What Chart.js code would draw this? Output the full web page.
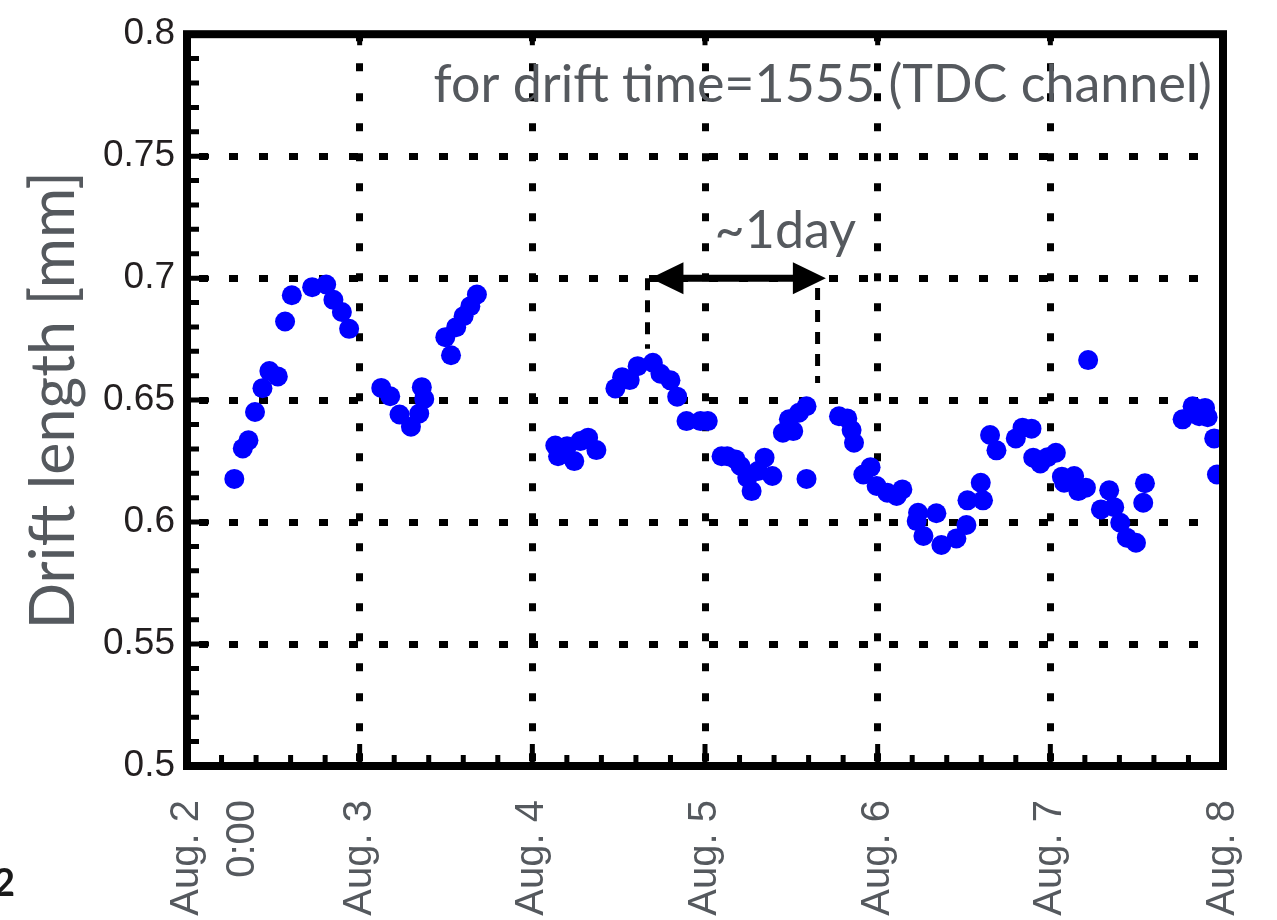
<!DOCTYPE html>
<html>
<head>
<meta charset="utf-8">
<title>Drift length vs time</title>
<script src="https://cdn.jsdelivr.net/npm/chart.js@4.4.1/dist/chart.umd.min.js"></script>
<style>
  html, body { margin: 0; padding: 0; background: #fff; }
  #wrap { width: 1277px; height: 920px; }
</style>
</head>
<body>
<div id="wrap"><canvas id="driftChart" width="1277" height="920"></canvas></div>
<script>
// time in days of August, drift length in mm
const days = [
  2.274, 2.323, 2.356, 2.394, 2.437, 2.477, 2.526, 2.568, 2.607, 2.725, 2.806, 2.848, 2.897, 2.939,
  3.125, 3.177, 3.231, 3.297, 3.345, 3.374, 3.360,
  3.496, 3.529, 3.559, 3.602, 3.641, 3.679,
  4.133, 4.149, 4.201, 4.243, 4.278, 4.323, 4.371,
  4.481, 4.520, 4.564, 4.610, 4.698, 4.742, 4.800, 4.839, 4.893, 4.974, 5.016,
  5.096, 5.129, 5.177, 5.206, 5.245, 5.270, 5.306, 5.345, 5.390,
  5.451, 5.486, 5.511, 5.544, 5.588, 5.588,
  5.776, 5.824, 5.849, 5.863, 5.917, 5.959, 5.994, 6.056, 6.110, 6.143,
  6.226, 6.234, 6.265, 6.340, 6.369, 6.456, 6.514, 6.520, 6.597, 6.610, 6.651, 6.688,
  6.800, 6.839, 6.891, 6.901, 6.942, 6.984, 7.032, 7.067, 7.080, 7.138, 7.162, 7.206,
  7.219,
  7.293, 7.341, 7.370, 7.405, 7.443, 7.496, 7.538, 7.548,
  7.766, 7.824, 7.862, 7.896, 7.911, 7.949, 7.965
];
const driftLength = [
  0.6177, 0.6302, 0.6335, 0.6451, 0.6549, 0.6619, 0.6597, 0.6822, 0.6930, 0.6963, 0.6974, 0.6911, 0.6861, 0.6792,
  0.6550, 0.6516, 0.6441, 0.6391, 0.6445, 0.6505, 0.6553,
  0.6758, 0.6684, 0.6799, 0.6844, 0.6885, 0.6933,
  0.6314, 0.6270, 0.6311, 0.6250, 0.6332, 0.6346, 0.6295,
  0.6548, 0.6594, 0.6582, 0.6639, 0.6653, 0.6608, 0.6581, 0.6514, 0.6414, 0.6414, 0.6414,
  0.6270, 0.6270, 0.6257, 0.6230, 0.6182, 0.6127, 0.6209, 0.6264, 0.6189,
  0.6366, 0.6421, 0.6373, 0.6448, 0.6475, 0.6177,
  0.6434, 0.6425, 0.6377, 0.6325, 0.6195, 0.6225, 0.6148, 0.6120, 0.6107, 0.6134,
  0.6004, 0.6038, 0.5943, 0.6036, 0.5906, 0.5933, 0.5988, 0.6089, 0.6161, 0.6089, 0.6357, 0.6294,
  0.6343, 0.6387, 0.6383, 0.6264, 0.6240, 0.6266, 0.6284, 0.6186, 0.6161, 0.6189, 0.6127, 0.6141,
  0.6664,
  0.6052, 0.6130, 0.6061, 0.5997, 0.5936, 0.5915, 0.6079, 0.6159,
  0.6421, 0.6475, 0.6434, 0.6468, 0.6430, 0.6343, 0.6195
];

const dayTicks = [2, 3, 4, 5, 6, 7, 8];
const dayLabels = [['Aug. 2', '0:00'], 'Aug. 3', 'Aug. 4', 'Aug. 5', 'Aug. 6', 'Aug. 7', 'Aug. 8'];
const lengthTicks = [0.5, 0.55, 0.6, 0.65, 0.7, 0.75, 0.8];
const lengthLabels = ['0.5', '0.55', '0.6', '0.65', '0.7', '0.75', '0.8'];

// one-day period marker
const periodArrow = { from: 4.684, to: 5.700, level: 0.7 };
const periodDrops = [
  { x: 4.667, top: 0.7, bottom: 0.671 },
  { x: 5.652, top: 0.696, bottom: 0.657 }
];
const periodText = { text: '~1day', x: 5.465, y: 0.7124 };
const noteText = 'for drift time=1555 (TDC channel)';

const grey = '#55595e';

const frameAndNotes = {
  id: 'frameAndNotes',
  afterDatasetsDraw(chart) {
    const { ctx, chartArea: a, scales: { x, y } } = chart;
    ctx.save();

    // dashed drop lines of the period marker
    ctx.strokeStyle = '#000';
    ctx.lineWidth = 5;
    ctx.setLineDash([12, 10]);
    periodDrops.forEach(d => {
      const px = x.getPixelForValue(d.x);
      ctx.beginPath();
      ctx.moveTo(px, y.getPixelForValue(d.top));
      ctx.lineTo(px, y.getPixelForValue(d.bottom));
      ctx.stroke();
    });
    ctx.setLineDash([]);

    // double headed arrow
    const ay = y.getPixelForValue(periodArrow.level);
    const ax1 = x.getPixelForValue(periodArrow.from);
    const ax2 = x.getPixelForValue(periodArrow.to);
    const head = 33, half = 16;
    ctx.lineWidth = 7;
    ctx.beginPath();
    ctx.moveTo(ax1 + head - 2, ay);
    ctx.lineTo(ax2 - head + 2, ay);
    ctx.stroke();
    ctx.fillStyle = '#000';
    ctx.beginPath();
    ctx.moveTo(ax1, ay);
    ctx.lineTo(ax1 + head, ay - half);
    ctx.lineTo(ax1 + head, ay + half);
    ctx.closePath();
    ctx.fill();
    ctx.beginPath();
    ctx.moveTo(ax2, ay);
    ctx.lineTo(ax2 - head, ay - half);
    ctx.lineTo(ax2 - head, ay + half);
    ctx.closePath();
    ctx.fill();

    // frame
    ctx.lineWidth = 8;
    ctx.strokeRect(a.left, a.top, a.right - a.left, a.bottom - a.top);

    // inward ticks: every 0.01 mm on the left, every 0.2 day on the bottom
    ctx.lineWidth = 5;
    ctx.beginPath();
    for (let k = 50; k <= 80; k++) {
      const py = y.getPixelForValue(k / 100);
      const len = k % 5 === 0 ? 22 : 12;
      ctx.moveTo(a.left, py);
      ctx.lineTo(a.left + len, py);
    }
    for (let k = 10; k <= 40; k++) {
      const px = x.getPixelForValue(k / 5);
      const len = k % 5 === 0 ? 22 : 11;
      ctx.moveTo(px, a.bottom);
      ctx.lineTo(px, a.bottom - len);
      if (k % 5 === 0) {
        ctx.moveTo(px, a.top);
        ctx.lineTo(px, a.top + 11);
      }
    }
    ctx.stroke();

    // labels
    ctx.fillStyle = grey;
    ctx.font = '52px Lato';
    ctx.textAlign = 'right';
    ctx.textBaseline = 'alphabetic';
    ctx.fillText(noteText, a.right - 11, a.top + 68);

    ctx.textAlign = 'center';
    ctx.fillText(periodText.text, x.getPixelForValue(periodText.x), y.getPixelForValue(periodText.y));

    ctx.restore();
  },
  afterDraw(chart) {
    const { ctx } = chart;
    ctx.save();
    ctx.fillStyle = '#1a1a1a';
    ctx.font = 'bold 38px Lato';
    ctx.textAlign = 'right';
    ctx.fillText('2', 15, 896);
    ctx.restore();
  }
};

const ctx = document.getElementById('driftChart').getContext('2d');

new Chart(ctx, {
  type: 'scatter',
  data: {
    datasets: [{
      label: 'Drift length',
      data: days.map((d, i) => ({ x: d, y: driftLength[i] })),
      backgroundColor: '#0000ff',
      borderWidth: 0,
      pointRadius: 10,
      pointHoverRadius: 10
    }]
  },
  options: {
    responsive: false,
    animation: false,
    layout: { padding: { left: 0, right: 54, top: 33, bottom: 0 } },
    plugins: {
      legend: { display: false },
      tooltip: { enabled: false }
    },
    scales: {
      x: {
        type: 'linear',
        min: 2,
        max: 8,
        afterBuildTicks: s => { s.ticks = dayTicks.map(v => ({ value: v })); },
        afterFit: s => {
          s.height = 154;
          // rotated labels may stick out past the frame; keep the frame fixed
          s.paddingLeft = 0;
          s.paddingRight = 0;
        },
        ticks: {
          callback: (v, i) => dayLabels[i],
          color: grey,
          font: { family: 'Liberation Sans', size: 40, lineHeight: 1.4 },
          minRotation: 90,
          maxRotation: 90,
          padding: 34
        },
        grid: {
          color: c => (c.tick && c.tick.value > 2 && c.tick.value < 8) ? '#000' : 'rgba(0,0,0,0)',
          lineWidth: 7,
          drawTicks: false
        },
        border: { display: false, dash: [8, 22], dashOffset: 1 }
      },
      y: {
        type: 'linear',
        min: 0.5,
        max: 0.8,
        afterBuildTicks: s => { s.ticks = lengthTicks.map(v => ({ value: v })); },
        afterFit: s => { s.width = 187; },
        ticks: {
          callback: (v, i) => lengthLabels[i],
          color: '#231f20',
          font: { family: 'Liberation Sans', size: 37 },
          padding: 12
        },
        grid: {
          color: c => (c.tick && c.tick.value > 0.5 && c.tick.value < 0.8) ? '#000' : 'rgba(0,0,0,0)',
          lineWidth: 7,
          drawTicks: false
        },
        border: { display: false, dash: [9, 21], dashOffset: 18 },
        title: {
          display: true,
          text: 'Drift length [mm]',
          color: grey,
          font: { family: 'Lato', size: 61 },
          padding: { top: 18, bottom: 0 }
        }
      }
    }
  },
  plugins: [frameAndNotes]
});
</script>
</body>
</html>
